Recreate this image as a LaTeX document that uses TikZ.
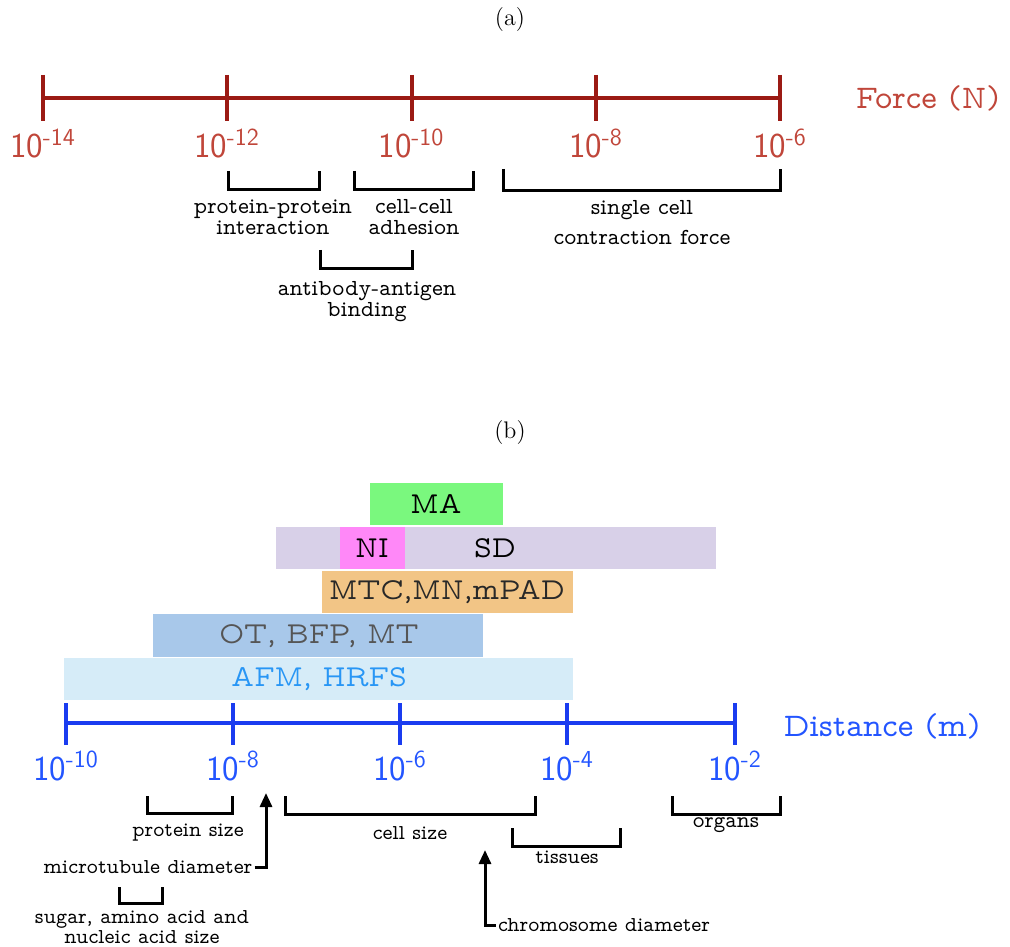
\documentclass[tikz,border=0pt]{standalone}
\usepackage{fontspec}
\usetikzlibrary{arrows.meta}
\newfontfamily\vtt{lmmonoprop10-regular}[Extension=.otf]
\definecolor{faxis}{RGB}{155,26,20}
\definecolor{flab}{RGB}{192,70,58}
\definecolor{daxis}{RGB}{26,60,240}
\definecolor{dlab}{RGB}{35,85,255}
\definecolor{cMA}{RGB}{122,248,126}
\definecolor{cSD}{RGB}{216,208,232}
\definecolor{cNI}{RGB}{255,136,248}
\definecolor{cMTC}{RGB}{242,197,134}
\definecolor{cOT}{RGB}{168,200,234}
\definecolor{cAFM}{RGB}{214,236,248}
\definecolor{tAFM}{RGB}{40,150,245}
\definecolor{tOT}{RGB}{85,85,85}
\definecolor{tMTC}{RGB}{40,40,40}
\begin{document}
\begin{tikzpicture}[x=0.5pt,y=-0.5pt,
  faxisline/.style={line width=2pt,draw=faxis},
  daxisline/.style={line width=2pt,draw=daxis},
  fticklab/.style={text=flab,font=\sffamily\fontsize{17.5}{20}\selectfont,anchor=base,inner sep=0pt},
  dticklab/.style={text=dlab,font=\sffamily\fontsize{17.5}{20}\selectfont,anchor=base,inner sep=0pt},
  axname/.style={font=\vtt\fontsize{16.5}{19}\selectfont,inner sep=0pt},
  bracket/.style={line width=1.5pt,draw=black},
  lab/.style={font=\vtt\fontsize{11.5}{10.5}\selectfont,align=center,inner sep=0pt},
  labb/.style={font=\vtt\fontsize{10.6}{10}\selectfont,align=center,inner sep=0pt},
  boxlab/.style={font=\vtt\fontsize{15.2}{18}\selectfont,inner sep=0pt},
  arr/.style={line width=1.5pt,-{Triangle[width=6pt,length=7pt]}}
]
\useasboundingbox (0,0) rectangle (1010,946);

% (a)
\node[font=\fontsize{12}{14}\selectfont] (ta) at (510,20) {(a)};

% force axis
\coordinate (f0) at (43,98);
\coordinate (f4) at (780,98);
\draw[faxisline] (f0) -- (f4);
\foreach \x in {43,227,411.5,596,780} \draw[faxisline] (\x,75) -- (\x,121);
\node[fticklab] (fl0) at (43,158) {10\textsuperscript{-14}};
\node[fticklab] (fl1) at (227,158) {10\textsuperscript{-12}};
\node[fticklab] (fl2) at (411.5,158) {10\textsuperscript{-10}};
\node[fticklab] (fl3) at (596,158) {10\textsuperscript{-8}};
\node[fticklab] (fl4) at (780,158) {10\textsuperscript{-6}};
\node[axname,text=flab] (fname) at (928,98) {Force (N)};

% brackets (a)
\draw[bracket] (228,171) -- (228,190) -- (319,190) -- (319,171);
\draw[bracket] (354,171) -- (354,190) -- (473,190) -- (473,171);
\draw[bracket] (320,250) -- (320,269) -- (412,269) -- (412,250);
\draw[bracket] (503,169) -- (503,191) -- (780,191) -- (780,169);
\node[lab] (pp) at (273,217) {protein-protein\\interaction};
\node[lab] (cc) at (414,217) {cell-cell\\adhesion};
\node[lab] (ab) at (367,302) {antibody-antigen\\binding};
\node[lab] (sc) at (642,223) {single cell\\[4.5pt]contraction force};

% (b)
\node[font=\fontsize{12}{14}\selectfont] (tb) at (510,433) {(b)};

% boxes
\fill[cMA] (370,483) rectangle (503,525);
\fill[cSD] (276,527) rectangle (716,569);
\fill[cNI] (340,527) rectangle (405,569);
\fill[cMTC] (322,571) rectangle (573,613);
\fill[cOT] (153,614) rectangle (483,657);
\fill[cAFM] (64,658) rectangle (573,700);
\node[boxlab] (ma) at (436,504) {MA};
\node[boxlab] (sd) at (495,548) {SD};
\node[boxlab] (ni) at (372,548) {NI};
\node[boxlab,text=tMTC] (mtc) at (447,592) {MTC,MN,mPAD};
\node[boxlab,text=tOT] (ot) at (319,636) {OT, BFP, MT};
\node[boxlab,text=tAFM] (afm) at (319,679) {AFM, HRFS};

% distance axis
\coordinate (d0) at (66,723);
\coordinate (d4) at (735,723);
\draw[daxisline] (d0) -- (d4);
\foreach \x in {66,233,400,567,735} \draw[daxisline] (\x,703) -- (\x,745);
\node[dticklab] (dl0) at (66,780) {10\textsuperscript{-10}};
\node[dticklab] (dl1) at (233,780) {10\textsuperscript{-8}};
\node[dticklab] (dl2) at (400,780) {10\textsuperscript{-6}};
\node[dticklab] (dl3) at (567,780) {10\textsuperscript{-4}};
\node[dticklab] (dl4) at (735,780) {10\textsuperscript{-2}};
\node[axname,text=dlab] (dname) at (882,726) {Distance (m)};

% brackets (b)
\draw[bracket] (147,796) -- (147,813) -- (232,813) -- (232,796);
\draw[bracket] (285,796) -- (285,814) -- (535,814) -- (535,796);
\draw[bracket] (512,828) -- (512,846) -- (620,846) -- (620,828);
\draw[bracket] (672,796) -- (672,814) -- (780,814) -- (780,796);
\draw[bracket] (119,887) -- (119,903) -- (162,903) -- (162,887);
\node[labb] (ps) at (188,833) {protein size};
\node[labb] (cs) at (410,833) {cell size};
\node[labb] (ti) at (567,857) {tissues};
\node[labb,font=\vtt\fontsize{11.2}{10}\selectfont] (org) at (726,825) {organs};
\node[labb] (mt) at (148,867) {microtubule diameter};
\node[labb] (sug) at (142,927) {sugar, amino acid and\\nucleic acid size};
\node[labb] (chr) at (604,925) {chromosome diameter};
\coordinate (mtTip) at (266,793);
\coordinate (chrTip) at (485,850);
\draw[arr] ([xshift=1pt]mt.east) -| (mtTip);
\draw[arr] ([xshift=-1pt]chr.west) -| (chrTip);
\end{tikzpicture}
\end{document}
